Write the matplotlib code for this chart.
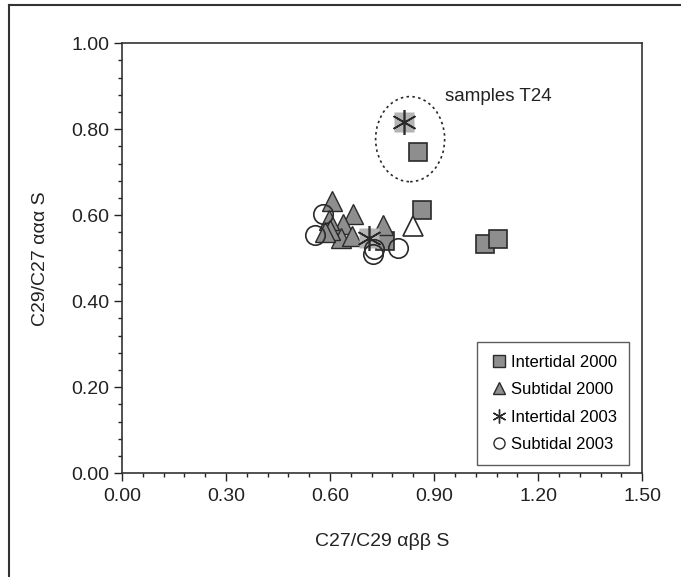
import matplotlib.pyplot as plt
from matplotlib.lines import Line2D
from matplotlib.patches import Ellipse
from matplotlib.ticker import MultipleLocator, FormatStrFormatter

plt.rcParams['font.family'] = ['Liberation Sans', 'DejaVu Sans']

# Intertidal 2000 (grey squares)
int00_x = [0.854, 0.865, 1.047, 1.085, 0.759]
int00_y = [0.746, 0.613, 0.533, 0.544, 0.540]

# Subtidal 2000 (grey triangles)
sub00_x = [0.605, 0.665, 0.638, 0.633, 0.598, 0.600, 0.662, 0.752, 0.586]
sub00_y = [0.632, 0.604, 0.580, 0.546, 0.588, 0.565, 0.551, 0.577, 0.560]

# Intertidal 2003 (asterisks)
int03_x = [0.813, 0.711]
int03_y = [0.816, 0.547]

# Subtidal 2003 (open circles)
sub03_x = [0.581, 0.557, 0.725, 0.728, 0.797]
sub03_y = [0.602, 0.553, 0.509, 0.522, 0.524]

# open triangle (not in legend)
open_x = [0.840]
open_y = [0.575]

fig = plt.figure(figsize=(6.81, 5.77), dpi=100)
ax = fig.add_axes([0.179, 0.180, 0.764, 0.745])

grey = '#8e8e8e'
edge = '#2a2a2a'

ax.plot(int00_x, int00_y, 's', ms=13, mfc=grey, mec=edge, mew=1.2, zorder=2)
ax.plot(sub00_x, sub00_y, '^', ms=15, mfc=grey, mec=edge, mew=1.0, zorder=3)
ax.plot(open_x, open_y, '^', ms=15, mfc='white', mec=edge, mew=1.2, zorder=3)
ax.plot(int03_x, int03_y, 's', ms=14, mfc='#b4b4b4', mec='none', zorder=4)
ax.plot(int03_x, int03_y, marker=(6, 2, 0), ls='none', ms=18, mec=edge, mew=1.2, zorder=5)
ax.plot(sub03_x, sub03_y, 'o', ms=14, mfc='none', mec=edge, mew=1.2, zorder=6)

# dotted ellipse around T24 samples
ax.add_patch(Ellipse((0.831, 0.777), 0.199, 0.198, fill=False, ls=(0, (1.5, 2)),
                     lw=1.2, ec=edge, zorder=1))
ax.text(0.932, 0.866, 'samples T24', fontsize=13.5, color='#222222')

ax.set_xlim(0, 1.5)
ax.set_ylim(0, 1.0)
ax.xaxis.set_major_locator(MultipleLocator(0.3))
ax.xaxis.set_minor_locator(MultipleLocator(0.06))
ax.yaxis.set_major_locator(MultipleLocator(0.2))
ax.yaxis.set_minor_locator(MultipleLocator(0.04))
ax.xaxis.set_major_formatter(FormatStrFormatter('%.2f'))
ax.yaxis.set_major_formatter(FormatStrFormatter('%.2f'))
ax.tick_params(which='major', direction='out', length=6, width=1, labelsize=14,
               colors='#222222', pad=3)
ax.tick_params(which='minor', direction='out', length=3, width=1, colors='#222222')
ax.tick_params(axis='x', pad=5)
ax.xaxis.set_ticks_position('bottom')
ax.yaxis.set_ticks_position('left')
for s in ax.spines.values():
    s.set_linewidth(1.2)
    s.set_color('#333333')

ax.set_xlabel('C27/C29 αββ S', fontsize=14, color='#222222', labelpad=20)
ax.set_ylabel('C29/C27 ααα S', fontsize=14, color='#222222', labelpad=16)

handles = [
    Line2D([], [], marker='s', ls='none', ms=8, mfc=grey, mec=edge, mew=1),
    Line2D([], [], marker='^', ls='none', ms=9, mfc=grey, mec=edge, mew=1),
    Line2D([], [], marker=(6, 2, 0), ls='none', ms=10, mec=edge, mew=1),
    Line2D([], [], marker='o', ls='none', ms=8, mfc='none', mec=edge, mew=1),
]
labels = ['Intertidal 2000', 'Subtidal 2000', 'Intertidal 2003', 'Subtidal 2003']
leg = ax.legend(handles, labels, loc='lower right', bbox_to_anchor=(0.975, 0.02),
                fontsize=12, frameon=True, fancybox=False, edgecolor='#333333',
                handlelength=1.2, handletextpad=0.1, labelspacing=0.75,
                borderpad=0.75, borderaxespad=0)
leg.get_frame().set_linewidth(1.0)
leg.get_frame().set_boxstyle('square', pad=0)

# outer frame lines (top and left)
fig.add_artist(Line2D([9 / 681, 1], [1 - 5 / 577, 1 - 5 / 577], color='#333333', lw=1.5))
fig.add_artist(Line2D([9 / 681, 9 / 681], [0, 1 - 5 / 577], color='#333333', lw=1.5))

fig.savefig('out.png', dpi=100)
